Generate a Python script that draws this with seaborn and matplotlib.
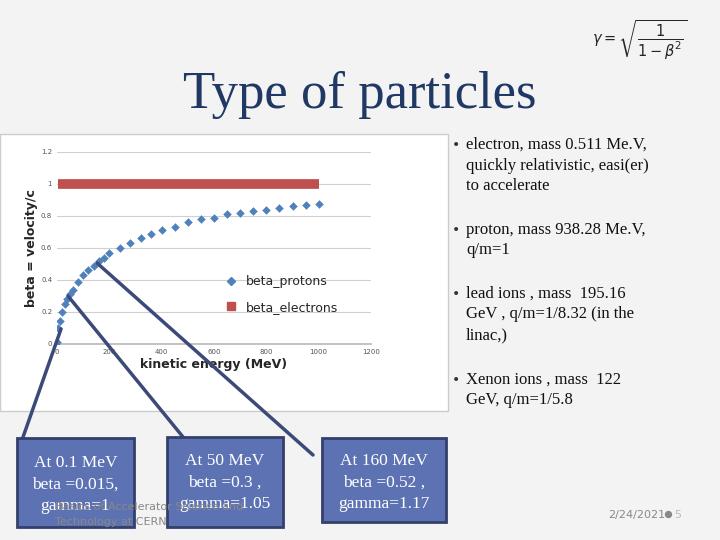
import matplotlib
matplotlib.use("Agg")
import matplotlib.pyplot as plt
import seaborn as sns
from matplotlib.patches import Rectangle
from matplotlib.lines import Line2D

# proton beta
energy_mev = [0.1, 5, 10, 20, 30, 40, 50, 60, 80, 100, 120, 140, 160, 180, 200, 240, 280, 320,
              360, 400, 450, 500, 550, 600, 650, 700, 750, 800, 850, 900, 950, 1000]
beta_protons = [0.015, 0.10, 0.145, 0.20, 0.25, 0.28, 0.31, 0.34, 0.39, 0.43, 0.46, 0.49, 0.52,
                0.54, 0.57, 0.60, 0.63, 0.66, 0.69, 0.71, 0.73, 0.76, 0.78, 0.79, 0.81, 0.82,
                0.83, 0.84, 0.85, 0.86, 0.87, 0.875]
energy_e = [0, 5, 50, 100, 200, 300, 400, 500, 600, 700, 800, 900, 1000]
beta_electrons = [0.0, 1.0, 1.0, 1.0, 1.0, 1.0, 1.0, 1.0, 1.0, 1.0, 1.0, 1.0, 1.0]

sns.set_theme(style="white")
fig = plt.figure(figsize=(7.2, 5.4), dpi=100)
fig.patch.set_facecolor("#f3f3f3")


def pixel_axes(z):
    a = fig.add_axes([0, 0, 1, 1], zorder=z)
    a.set_xlim(0, 720)
    a.set_ylim(540, 0)
    a.axis("off")
    a.patch.set_alpha(0)
    return a


bg = pixel_axes(0)
bg.add_patch(Rectangle((0, 134), 448, 277, facecolor="white", edgecolor="#cccccc", lw=1))

ax = fig.add_axes([57 / 720, 196 / 540, 314 / 720, 192 / 540], zorder=1)
ax.set_facecolor("white")
sns.lineplot(x=energy_e[1:], y=beta_electrons[1:], ax=ax, color="#c0504d", lw=7,
             solid_capstyle="butt", zorder=3)
ax.scatter(energy_e[:1], beta_electrons[:1], marker="s", s=12, color="#c0504d", zorder=3)
sns.scatterplot(x=energy_mev, y=beta_protons, ax=ax, marker="D", s=16, color="#4f81bd",
                edgecolor="#4f81bd", zorder=4)
ax.set_xlim(0, 1200)
ax.set_ylim(0, 1.2)
ax.set_xticks(range(0, 1201, 200))
ax.set_yticks([0, 0.2, 0.4, 0.6, 0.8, 1.0, 1.2])
ax.set_yticklabels(["0", "0.2", "0.4", "0.6", "0.8", "1", "1.2"])
ax.tick_params(labelsize=5, colors="#555555", length=0)
ax.yaxis.grid(True, color="#d0d0d0", lw=0.8)
for s in ["top", "right", "left"]:
    ax.spines[s].set_visible(False)
ax.spines["bottom"].set_color("#bbbbbb")
ax.set_xlabel("kinetic energy (MeV)", fontsize=9, fontweight="bold", labelpad=2)
ax.set_ylabel("beta = velocity/c", fontsize=9, fontweight="bold", labelpad=2)
handles = [Line2D([], [], ls="", marker="D", ms=4, color="#4f81bd"),
           Line2D([], [], ls="", marker="s", ms=6, color="#c0504d")]
ax.legend(handles, ["beta_protons", "beta_electrons"], loc="lower right",
          bbox_to_anchor=(0.93, 0.1), frameon=False, fontsize=9, handlelength=0.8,
          labelspacing=1.0)

ov = pixel_axes(2)
serif = "Liberation Serif"
ov.text(360, 95, "Type of particles", ha="center", va="center", fontsize=38,
        family=serif, color="#1f3864")
ov.text(592, 40, r"$\gamma=\sqrt{\dfrac{1}{1-\beta^2}}$", ha="left", va="center", fontsize=10.5)

bullets = [
    (145, ["electron, mass 0.511 Me.V,", "quickly relativistic, easi(er)", "to accelerate"]),
    (230, ["proton, mass 938.28 Me.V,", "q/m=1"]),
    (294, ["lead ions , mass  195.16", "GeV , q/m=1/8.32 (in the", "linac,)"]),
    (380, ["Xenon ions , mass  122", "GeV, q/m=1/5.8"]),
]
for y, lines in bullets:
    ov.text(452, y, "\u2022", fontsize=10, va="center", family="DejaVu Sans", color="#333333")
    for i, t in enumerate(lines):
        ov.text(466, y + i * 20.5, t, fontsize=12, va="center", family=serif, color="#111111")

# pointer lines
for x0, y0, x1, y1 in [(61, 329, 22, 440), (68, 296, 183, 437), (97, 263, 313, 455)]:
    ov.plot([x0, x1], [y0, y1], color="#3b4a78", lw=2.5, zorder=5)

boxes = [
    (17, 438, 117, 89, ["At 0.1 MeV", "beta =0.015,", "gamma=1"], 463),
    (167, 437, 116, 90, ["At 50 MeV", "beta =0.3 ,", "gamma=1.05"], 461),
    (322, 438, 124, 84, ["At 160 MeV", "beta =0.52 ,", "gamma=1.17"], 461),
]
for x, y, w, hh, lines, ty in boxes:
    ov.add_patch(Rectangle((x, y), w, hh, facecolor="#5d72b2", edgecolor="#34406b", lw=2, zorder=6))
    for i, t in enumerate(lines):
        ov.text(x + w / 2, ty + i * 21.5, t, ha="center", va="center", fontsize=12.5,
                family=serif, color="white", zorder=7)

ov.text(55, 507, "Basics of Accelerator Science and", fontsize=8, color="#888888", va="center", zorder=8)
ov.text(55, 522, "Technology at CERN", fontsize=8, color="#888888", va="center", zorder=8)
ov.text(608, 515, "2/24/2021", fontsize=8, color="#888888", va="center")
ov.scatter([668], [514], s=18, color="#888888")
ov.text(674, 515, "5", fontsize=8, color="#bbbbbb", va="center")

fig.savefig("out.png", dpi=100, facecolor=fig.get_facecolor())
